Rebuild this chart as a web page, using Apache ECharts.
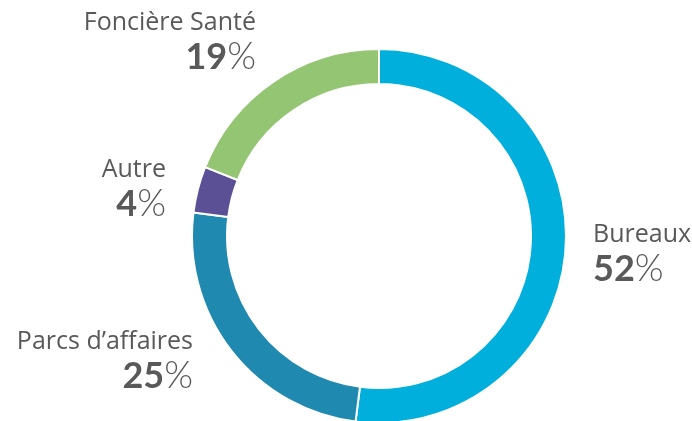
<!DOCTYPE html>
<html>
<head>
<meta charset="utf-8">
<script src="https://cdn.jsdelivr.net/npm/echarts@6/dist/echarts.min.js"></script>
<style>
  html, body { margin: 0; padding: 0; background: #fff; }
  #chart { width: 692px; height: 421px; }
</style>
</head>
<body>
<div id="chart"></div>
<script>
const categories = ['Bureaux', "Parcs d\u2019affaires", 'Autre', 'Foncière Santé']
const shares = [52, 25, 4, 19]
const colors = ['#00AFDB', '#1F89B0', '#5B4F96', '#93C572']

// where each label block sits (anchor x, middle y, side)
const labelPos = [
  { x: 593, y: 253, align: 'left' },
  { x: 193, y: 360, align: 'right' },
  { x: 166, y: 188, align: 'right' },
  { x: 256, y: 41, align: 'right' }
]

const chart = echarts.init(document.getElementById('chart'))

chart.setOption({
  animation: false,
  series: [
    {
      type: 'pie',
      center: [379, 236],
      radius: [152, 187],
      startAngle: 90,
      clockwise: true,
      data: categories.map((name, i) => ({
        name,
        value: shares[i],
        itemStyle: { color: colors[i] }
      })),
      itemStyle: { borderColor: '#fff', borderWidth: 2 },
      labelLine: { show: false },
      label: {
        show: true,
        position: 'outside',
        overflow: 'none',
        fontFamily: 'Open Sans',
        formatter: p => '{n|' + p.name + '}\n{v|' + p.value + '}{s|%}',
        rich: {
          n: { fontSize: 25, color: '#595959', fontFamily: 'Open Sans', lineHeight: 32 },
          v: { fontSize: 36, color: '#595959', fontWeight: 'bold', fontFamily: 'Lato', lineHeight: 37 },
          s: { fontSize: 37, color: '#595959', fontWeight: 300, fontFamily: 'Lato', lineHeight: 37 }
        }
      },
      labelLayout: p => {
        const lp = labelPos[p.dataIndex]
        return { x: lp.x, y: lp.y, align: lp.align, verticalAlign: 'middle' }
      }
    }
  ]
})
</script>
</body>
</html>
